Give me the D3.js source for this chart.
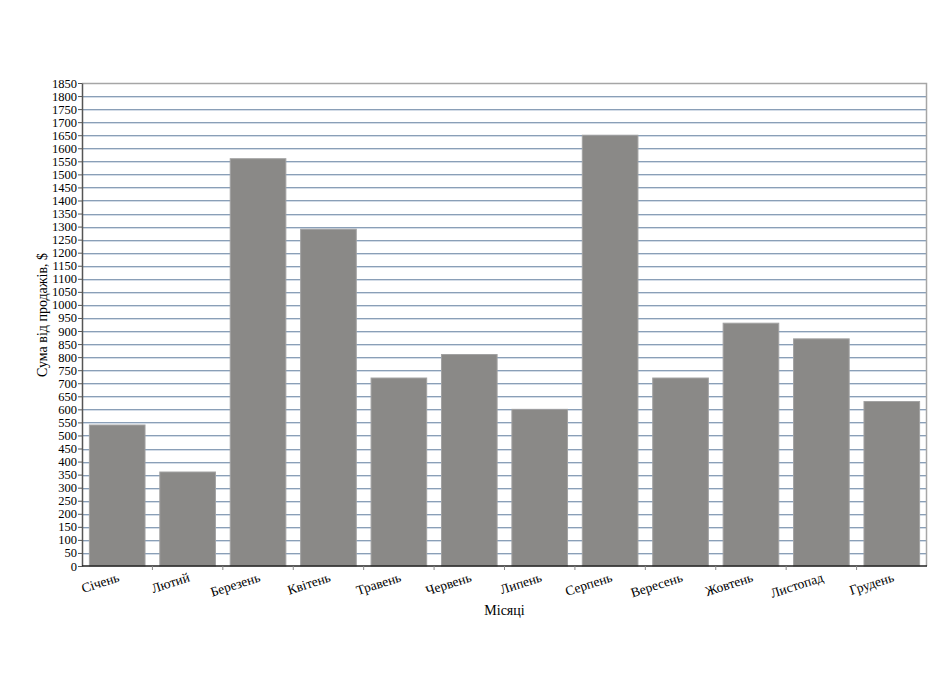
<!DOCTYPE html>
<html>
<head>
<meta charset="utf-8">
<script src="https://cdn.jsdelivr.net/npm/d3@7"></script>
<style>
  body { margin: 0; background: #fff; }
  svg { display: block; }
  svg text { font-family: "Liberation Serif", "DejaVu Serif", serif; }
</style>
</head>
<body>
<div id="chart"></div>
<script>
// Data
const months = ["Січень", "Лютий", "Березень", "Квітень", "Травень", "Червень",
  "Липень", "Серпень", "Вересень", "Жовтень", "Листопад", "Грудень"];
const sales = [540, 360, 1560, 1290, 720, 810, 600, 1650, 720, 930, 870, 630];
const yTicks = d3.range(0, 1851, 50);
const yTitle = "Сума від продажів, $";
const xTitle = "Місяці";

const width = 940, height = 691;
const margin = { top: 83, right: 13, bottom: 125, left: 82 };
const innerW = width - margin.left - margin.right;
const innerH = height - margin.top - margin.bottom;
const serif = "Liberation Serif, serif";

const svg = d3.select("#chart").append("svg")
  .attr("width", width)
  .attr("height", height);

const g = svg.append("g")
  .attr("transform", `translate(${margin.left},${margin.top})`);

// category cells (ticks sit on the cell edges) and bars inside them
const cell = d3.scaleBand().domain(months).range([0, innerW]).padding(0);
const x = d3.scaleBand().domain(months).range([0, innerW])
  .paddingInner(0.21).paddingOuter(0.105);
const y = d3.scaleLinear().domain([0, 1850]).range([innerH, 0]);

// gridlines
const grid = g.append("g");
grid.selectAll(".shade")
  .data(yTicks.slice(1, -1))
  .join("line")
  .attr("x1", 0).attr("x2", innerW)
  .attr("y1", d => Math.round(y(d)) + 1.5)
  .attr("y2", d => Math.round(y(d)) + 1.5)
  .attr("stroke", "#d3dce7");
grid.selectAll(".line")
  .data(yTicks.slice(1, -1))
  .join("line")
  .attr("x1", 0).attr("x2", innerW)
  .attr("y1", d => Math.round(y(d)) + 0.5)
  .attr("y2", d => Math.round(y(d)) + 0.5)
  .attr("stroke", "#8a9fb7");

// top and right frame
g.append("path")
  .attr("d", `M0,0.5H${innerW - 0.5}V${innerH}`)
  .attr("fill", "none")
  .attr("stroke", "#a6a6a6")
  .attr("stroke-width", 1.5);

// bars
g.append("g").selectAll("rect")
  .data(months.map((m, i) => ({ month: m, value: sales[i] })))
  .join("rect")
  .attr("x", d => x(d.month))
  .attr("y", d => y(d.value))
  .attr("width", x.bandwidth())
  .attr("height", d => innerH - y(d.value))
  .attr("fill", "#8a8987")
  .attr("stroke", "#a2a2a2")
  .attr("stroke-width", 1);

// y axis
const yAxis = g.append("g")
  .call(d3.axisLeft(y).tickValues(yTicks).tickFormat(d3.format("d"))
    .tickSize(4).tickPadding(1).tickSizeOuter(0));
yAxis.attr("font-family", serif);
yAxis.select(".domain").attr("stroke", "#555").attr("stroke-width", 1.5);
yAxis.selectAll(".tick line").attr("stroke", "#555");
yAxis.selectAll(".tick text")
  .attr("font-size", 12.5)
  .attr("font-family", serif)
  .attr("fill", "#000");

// x axis
const xAxis = g.append("g")
  .attr("transform", `translate(0,${innerH})`)
  .attr("font-family", serif);
xAxis.append("line")
  .attr("x1", 0).attr("x2", innerW)
  .attr("stroke", "#222").attr("stroke-width", 1.5);
xAxis.selectAll(".tick")
  .data(months.slice(1))
  .join("line")
  .attr("x1", d => cell(d)).attr("x2", d => cell(d))
  .attr("y1", 0).attr("y2", 4)
  .attr("stroke", "#888");
xAxis.selectAll("text")
  .data(months)
  .join("text")
  .attr("transform", d => `translate(${cell(d) + cell.bandwidth() / 2 + 3},${15}) rotate(-18)`)
  .attr("text-anchor", "end")
  .attr("font-family", serif)
  .attr("font-size", 13.5)
  .text(d => d);

// axis titles
svg.append("text")
  .attr("transform", `translate(${47},${315}) rotate(-90)`)
  .attr("text-anchor", "middle")
  .attr("font-family", serif)
  .attr("font-size", 14)
  .text(yTitle);

svg.append("text")
  .attr("x", margin.left + innerW / 2)
  .attr("y", 615)
  .attr("text-anchor", "middle")
  .attr("font-family", serif)
  .attr("font-size", 14)
  .text(xTitle);
</script>
</body>
</html>
